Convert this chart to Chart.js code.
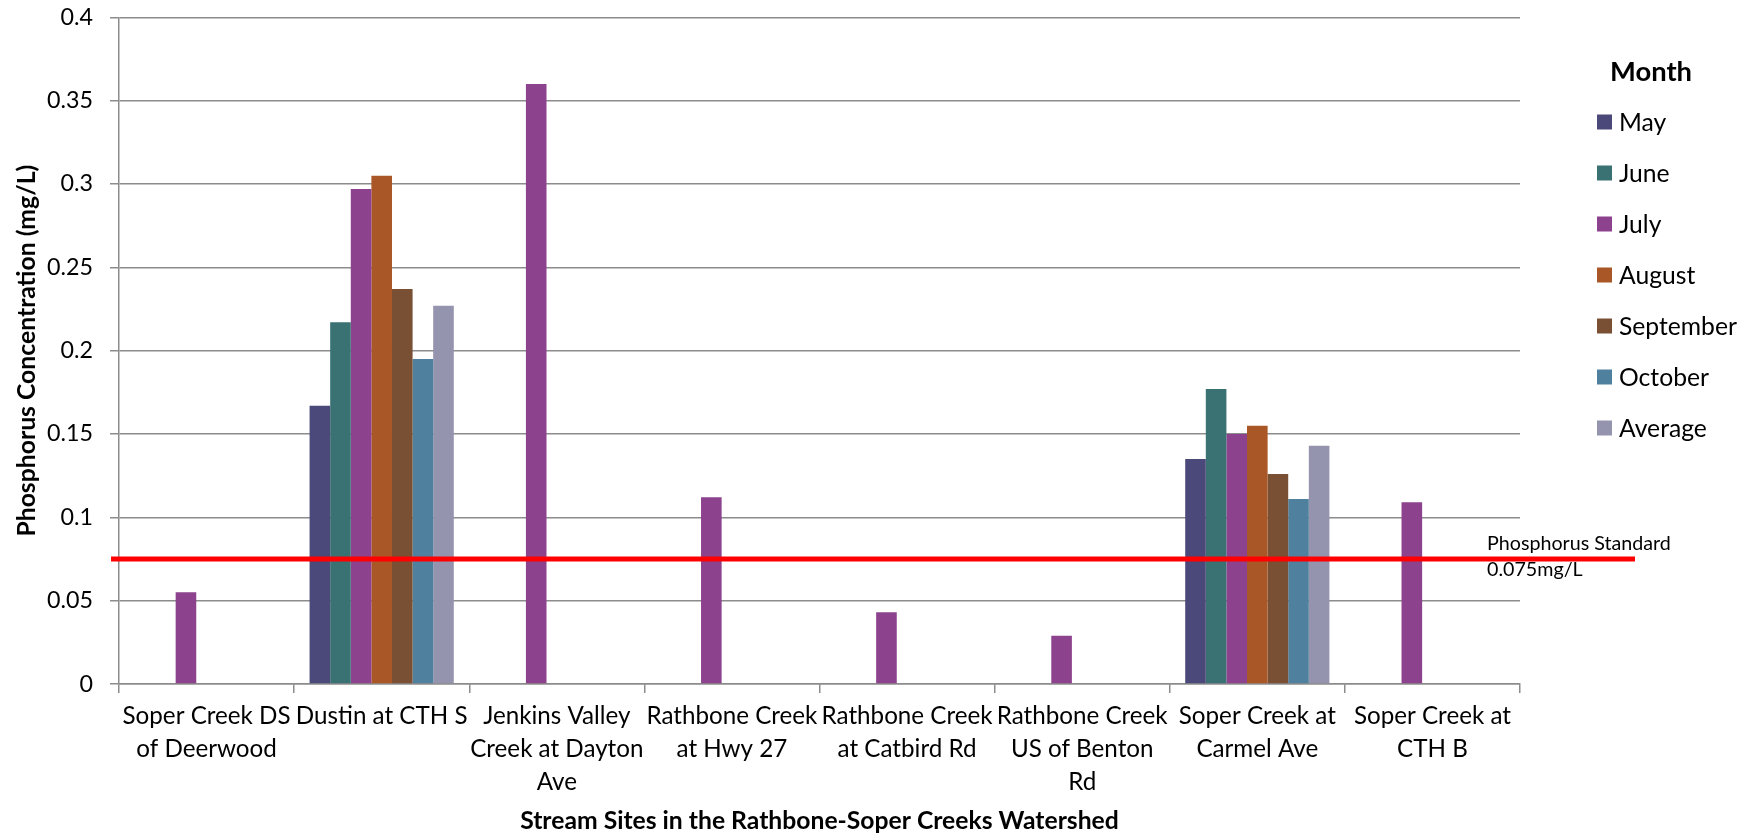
<!DOCTYPE html>
<html>
<head>
<meta charset="utf-8">
<script src="https://cdn.jsdelivr.net/npm/chart.js@4/dist/chart.umd.min.js"></script>
<style>
  html, body { margin: 0; padding: 0; background: #fff; }
  #wrap { width: 1754px; height: 836px; position: relative; }
</style>
</head>
<body>
<div id="wrap"><canvas id="c" width="1754" height="836"></canvas></div>
<script>
// Sampling sites along the creeks (multi-line axis labels)
const sites = [
  ['Soper Creek DS', 'of Deerwood'],
  ['Dustin at CTH S'],
  ['Jenkins Valley', 'Creek at Dayton', 'Ave'],
  ['Rathbone Creek', 'at Hwy 27'],
  ['Rathbone Creek', 'at Catbird Rd'],
  ['Rathbone Creek', 'US of Benton', 'Rd'],
  ['Soper Creek at', 'Carmel Ave'],
  ['Soper Creek at', 'CTH B']
];

// Total phosphorus (mg/L) per site and month; null = not sampled
const may       = [null, 0.167, null, null, null, null, 0.135, null];
const june      = [null, 0.217, null, null, null, null, 0.177, null];
const july      = [0.055, 0.297, 0.360, 0.112, 0.043, 0.029, 0.150, 0.109];
const august    = [null, 0.305, null, null, null, null, 0.155, null];
const september = [null, 0.237, null, null, null, null, 0.126, null];
const october   = [null, 0.195, null, null, null, null, 0.111, null];
const average   = [null, 0.227, null, null, null, null, 0.143, null];

const monthNames = ['May', 'June', 'July', 'August', 'September', 'October', 'Average'];
const monthSeries = [may, june, july, august, september, october, average];
const monthColors = ['#4A4979', '#3A7274', '#8D428D', '#AA5727', '#7A5035', '#4F819F', '#9594AF'];

// State water quality standard for phosphorus
const phosphorusStandard = 0.075;
const standardLabel = ['Phosphorus Standard', '0.075mg/L'];

const yTicks = [0, 0.05, 0.1, 0.15, 0.2, 0.25, 0.3, 0.35, 0.4];

const xTitle = 'Stream Sites in the Rathbone-Soper Creeks Watershed';
const yTitle = 'Phosphorus Concentration (mg/L)';
const legendTitle = 'Month';

const FONT = 'Lato, "Open Sans", sans-serif';
const GRID = '#8C8C8C';

// Pick a font size so that a sample string spans the wanted width
const measureCtx = document.createElement('canvas').getContext('2d');
function fitSize(text, weight, width) {
  measureCtx.font = weight + ' 100px ' + FONT;
  return 100 * width / measureCtx.measureText(text).width;
}
const xTickSize   = fitSize('Rathbone Creek', 'normal', 171);
const yTickSize   = fitSize('0.35', 'normal', 46);
const xTitleSize  = fitSize(xTitle, 'bold', 599);
const yTitleSize  = fitSize(yTitle, 'bold', 372);
const legendSize  = fitSize('September', 'normal', 118);
const legTitleSize = fitSize(legendTitle, 'bold', 82);
const noteSize    = fitSize(standardLabel[0], 'normal', 184);

// Red standard line with its note, plus the "Month" legend on the right
const overlay = {
  id: 'overlay',
  afterDatasetsDraw(chart) {
    const { ctx, scales: { y }, chartArea } = chart;
    const py = y.getPixelForValue(phosphorusStandard);
    ctx.save();
    ctx.strokeStyle = '#FF0000';
    ctx.lineWidth = 5;
    ctx.beginPath();
    ctx.moveTo(chartArea.left - 8, py);
    ctx.lineTo(chartArea.right + 115, py);
    ctx.stroke();

    ctx.fillStyle = '#000';
    ctx.font = noteSize + 'px ' + FONT;
    ctx.textAlign = 'left';
    ctx.textBaseline = 'middle';
    ctx.fillText(standardLabel[0], chartArea.right - 33, py - 15);
    ctx.fillText(standardLabel[1], chartArea.right - 33, py + 11);
    ctx.restore();
  },
  afterDraw(chart) {
    const { ctx } = chart;
    ctx.save();
    ctx.fillStyle = '#000';
    ctx.textBaseline = 'middle';
    ctx.textAlign = 'left';
    ctx.font = 'bold ' + legTitleSize + 'px ' + FONT;
    ctx.fillText(legendTitle, 1610, 72);
    ctx.font = legendSize + 'px ' + FONT;
    chart.data.datasets.forEach((ds, i) => {
      const cy = 122 + 51 * i;
      ctx.fillStyle = ds.backgroundColor;
      ctx.fillRect(1597, cy - 7.5, 15, 15);
      ctx.fillStyle = '#000';
      ctx.fillText(ds.label, 1619, cy + 1);
    });
    ctx.restore();
  }
};

new Chart(document.getElementById('c'), {
  type: 'bar',
  data: {
    labels: sites,
    datasets: monthNames.map((name, i) => ({
      label: name,
      data: monthSeries[i],
      backgroundColor: monthColors[i],
      borderWidth: 0,
      categoryPercentage: 0.8235,
      barPercentage: 1
    }))
  },
  options: {
    responsive: false,
    animation: false,
    layout: { padding: { top: 0, right: 234, left: 0, bottom: 0 } },
    plugins: {
      legend: { display: false },
      tooltip: { enabled: false }
    },
    scales: {
      x: {
        afterFit(scale) { scale.height = 152; },
        grid: {
          offset: true,
          drawOnChartArea: false,
          drawTicks: true,
          tickLength: 9,
          color: GRID,
          lineWidth: 1.5
        },
        border: { color: GRID, width: 1.5 },
        ticks: {
          autoSkip: false,
          maxRotation: 0,
          minRotation: 0,
          padding: 7,
          color: '#000',
          font: { family: FONT, size: xTickSize, lineHeight: '33px' }
        },
        title: {
          display: true,
          text: xTitle,
          color: '#000',
          font: { family: FONT, size: xTitleSize, weight: 'bold', lineHeight: 1.2 },
          padding: { top: 0, bottom: 0 }
        }
      },
      y: {
        min: 0,
        max: 0.4,
        afterFit(scale) {
          scale.width = 119;
          scale.paddingTop = 17.3;
          scale.paddingBottom = 0;
        },
        afterBuildTicks(scale) { scale.ticks = yTicks.map(v => ({ value: v })); },
        grid: {
          drawTicks: true,
          tickLength: 9,
          color: GRID,
          lineWidth: 1.5
        },
        border: { color: GRID, width: 1.5 },
        ticks: {
          padding: 17,
          color: '#000',
          font: { family: FONT, size: yTickSize },
          callback: v => String(+v.toFixed(2))
        },
        title: {
          display: true,
          text: yTitle,
          color: '#000',
          font: { family: FONT, size: yTitleSize, weight: 'bold', lineHeight: 1.2 },
          padding: { top: 12, bottom: 0 }
        }
      }
    }
  },
  plugins: [overlay]
});
</script>
</body>
</html>
